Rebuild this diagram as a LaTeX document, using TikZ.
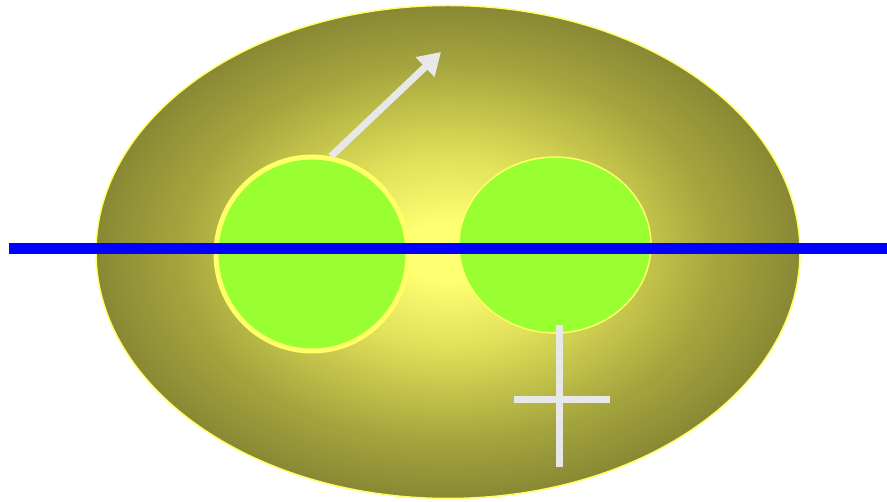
\documentclass[tikz,border=0pt]{standalone}
\usetikzlibrary{shapes.geometric,arrows.meta}
\definecolor{glowin}{RGB}{255,255,115}
\definecolor{glowmid}{RGB}{222,222,88}
\definecolor{glowdim}{RGB}{165,165,62}
\definecolor{glowout}{RGB}{122,122,48}
\definecolor{limefill}{RGB}{153,255,51}
\definecolor{rimyellow}{RGB}{255,255,102}
\definecolor{markgray}{RGB}{232,232,232}
\pgfdeclareradialshading{glow}{\pgfpoint{0bp}{0bp}}{color(0bp)=(glowin); color(3bp)=(glowin); color(10bp)=(glowmid); color(19bp)=(glowdim); color(28bp)=(glowout); color(50bp)=(glowout)}
\tikzset{
  body/.style={ellipse, inner sep=0pt, shading=glow, draw=rimyellow, line width=1.5pt},
  disc/.style={ellipse, inner sep=0pt, fill=limefill, draw=rimyellow},
  axisline/.style={draw=blue, line width=11pt},
  markline/.style={draw=markgray, line width=7pt},
}
\begin{document}
\begin{tikzpicture}[x=1pt,y=1pt]
\useasboundingbox (0,0) rectangle (887,502);
\node[body, minimum width=704pt, minimum height=493pt] (oval) at (448,250) {};
\node[disc, line width=5pt, minimum width=192pt, minimum height=194pt] (left) at (312,248) {};
\node[disc, line width=1.5pt, minimum width=192pt, minimum height=176pt] (right) at (555,257) {};
\coordinate (bl) at (9,253.5);
\coordinate (br) at (887,253.5);
\draw[axisline] (bl) -- (br);
\coordinate (tip) at (441,450);
\draw[markline, -{Triangle[length=22pt,width=26pt]}] (left.79) -- (tip);
\coordinate (vtop) at (559,177);
\coordinate (vbot) at (559,35);
\coordinate (hl) at (514,102);
\coordinate (hr) at (610,102);
\draw[markline] (vtop) -- (vbot);
\draw[markline] (hl) -- (hr);
\end{tikzpicture}
\end{document}
